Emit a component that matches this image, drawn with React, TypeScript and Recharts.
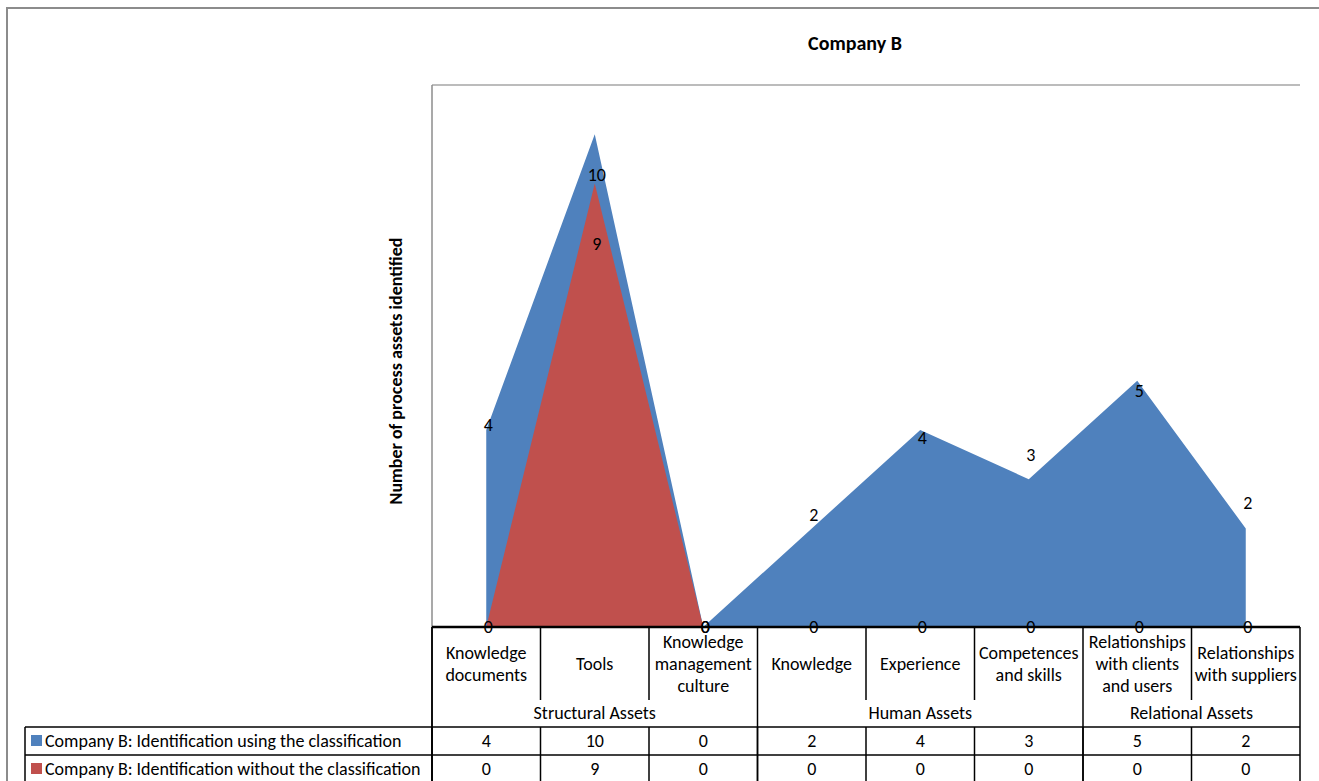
import React from 'react';
import { AreaChart, Area, XAxis, YAxis, CartesianGrid, LabelList } from 'recharts';

const categories = [
  'Knowledge\ndocuments',
  'Tools',
  'Knowledge\nmanagement\nculture',
  'Knowledge',
  'Experience',
  'Competences\nand skills',
  'Relationships\nwith clients\nand users',
  'Relationships\nwith suppliers',
];
const withClassification = [4, 10, 0, 2, 4, 3, 5, 2];
const withoutClassification = [0, 9, 0, 0, 0, 0, 0, 0];
const groups = [
  { name: 'Structural Assets', span: 3 },
  { name: 'Human Assets', span: 3 },
  { name: 'Relational Assets', span: 2 },
];
const seriesNames = [
  'Company B: Identification using the classification',
  'Company B: Identification without the classification',
];
const yTicks = [0, 1, 2, 3, 4, 5, 6, 7, 8, 9, 10, 11];

// Excel's data label placement for this chart, offset from the point (px)
const blueLabelDy = [-5, 41, 0, -13, 8, -24, 10, -25];
const redLabelDy = [0, 60, 0, 0, 0, 0, 0, 0];

const W = 1319;
const H = 781;
const PLOT_L = 432;
const PLOT_R = 1300;
const PLOT_T = 85;
const PLOT_B = 627;
const COL_W = (PLOT_R - PLOT_L) / categories.length;
const CAT_ROW_B = 700;
const ROW1_T = 727;
const ROW2_T = 755;
const ROW2_B = 790;
const LEGEND_L = 25;

const BLUE = '#4F81BD';
const RED = '#C0504D';
const FONT = 'Carlito, Calibri, Lato, sans-serif';
const FS = 18;

const data = categories.map((c, i) => ({
  name: c,
  a: withClassification[i],
  b: withoutClassification[i],
}));

const groupStarts: number[] = [];
groups.reduce((acc, g) => {
  groupStarts.push(acc);
  return acc + g.span;
}, 0);

const TableTick = (props: any) => {
  const { x, payload } = props;
  const i = payload.index;
  const left = x - COL_W / 2;
  const right = x + COL_W / 2;
  const lines = String(payload.value).split('\n');
  const lineH = 22;
  const midY = (PLOT_B + CAT_ROW_B) / 2 + 6;
  const startY = midY - ((lines.length - 1) * lineH) / 2;
  const isGroupStart = groupStarts.includes(i);
  return (
    <g>
      <line x1={left} x2={left} y1={PLOT_B} y2={isGroupStart ? ROW2_B : CAT_ROW_B} stroke="#000" strokeWidth={1.5} />
      <line x1={left} x2={left} y1={ROW1_T} y2={ROW2_B} stroke="#000" strokeWidth={1.5} />
      {i === categories.length - 1 && (
        <line x1={right} x2={right} y1={PLOT_B} y2={ROW2_B} stroke="#000" strokeWidth={1.5} />
      )}
      {lines.map((l, k) => (
        <text key={k} x={x} y={startY + k * lineH} textAnchor="middle" fontSize={FS} fontFamily={FONT} fill="#000">
          {l}
        </text>
      ))}
      <text x={x} y={ROW1_T + 20} textAnchor="middle" fontSize={FS} fontFamily={FONT} fill="#000">
        {withClassification[i]}
      </text>
      <text x={x} y={ROW2_T + 20} textAnchor="middle" fontSize={FS} fontFamily={FONT} fill="#000">
        {withoutClassification[i]}
      </text>
    </g>
  );
};

const makeLabel = (dys: number[]) => (props: any) => {
  const { x, y, value, index } = props;
  return (
    <text x={x + 2} y={y + dys[index] + 6} textAnchor="middle" fontSize={FS} fontFamily={FONT} fill="#000">
      {value}
    </text>
  );
};

const Overlay = () => {
  let col = 0;
  return (
    <svg width={W} height={H} style={{ position: 'absolute', left: 0, top: 0, pointerEvents: 'none' }}>
      <rect x={7} y={8} width={W + 20} height={H + 20} fill="none" stroke="#8c8c8c" strokeWidth={2} />
      <text x={855} y={50} textAnchor="middle" fontSize={20} fontWeight="bold" fontFamily={FONT} fill="#000">
        Company B
      </text>
      <text
        x={0}
        y={0}
        transform={`translate(402, 371) rotate(-90)`}
        textAnchor="middle"
        fontSize={18}
        fontWeight="bold"
        fontFamily={FONT}
        fill="#000"
      >
        Number of process assets identified
      </text>
      {groups.map((g) => {
        const cx = PLOT_L + (col + g.span / 2) * COL_W;
        col += g.span;
        return (
          <text key={g.name} x={cx} y={719} textAnchor="middle" fontSize={FS} fontFamily={FONT} fill="#000">
            {g.name}
          </text>
        );
      })}
      <line x1={LEGEND_L} x2={PLOT_R} y1={ROW1_T} y2={ROW1_T} stroke="#000" strokeWidth={1.5} />
      <line x1={LEGEND_L} x2={PLOT_R} y1={ROW2_T} y2={ROW2_T} stroke="#000" strokeWidth={1.5} />
      <line x1={LEGEND_L} x2={LEGEND_L} y1={ROW1_T} y2={ROW2_B} stroke="#000" strokeWidth={1.5} />
      <line x1={PLOT_L} x2={PLOT_L} y1={PLOT_B} y2={ROW2_B} stroke="#000" strokeWidth={1.5} />
      {seriesNames.map((s, k) => {
        const top = k === 0 ? ROW1_T : ROW2_T;
        return (
          <g key={s}>
            <rect x={31} y={top + 8} width={11} height={11} fill={k === 0 ? BLUE : RED} />
            <text x={45} y={top + 20} fontSize={FS} fontFamily={FONT} fill="#000">
              {s}
            </text>
          </g>
        );
      })}
    </svg>
  );
};

export default function App() {
  return (
    <div style={{ position: 'absolute', left: 0, top: 0, width: W, height: H, background: '#fff' }}>
      <AreaChart
        width={W}
        height={H}
        data={data}
        margin={{ top: PLOT_T, right: W - PLOT_R, bottom: 0, left: PLOT_L - 60 }}
      >
        <CartesianGrid horizontal vertical={false} stroke="#a6a6a6" strokeWidth={1.5} />
        <YAxis
          domain={[0, 11]}
          ticks={yTicks}
          width={60}
          tick={false}
          tickLine={false}
          axisLine={{ stroke: '#8c8c8c', strokeWidth: 1.5 }}
        />
        <XAxis
          dataKey="name"
          height={H - PLOT_B}
          interval={0}
          padding={{ left: COL_W / 2, right: COL_W / 2 }}
          tickLine={false}
          tickSize={0}
          tickMargin={0}
          axisLine={{ stroke: '#000', strokeWidth: 2.5 }}
          tick={<TableTick />}
        />
        <Area
          type="linear"
          dataKey="a"
          fill={BLUE}
          fillOpacity={1}
          stroke="none"
          isAnimationActive={false}
        >
          <LabelList dataKey="a" content={makeLabel(blueLabelDy)} />
        </Area>
        <Area
          type="linear"
          dataKey="b"
          fill={RED}
          fillOpacity={1}
          stroke="none"
          isAnimationActive={false}
        >
          <LabelList dataKey="b" content={makeLabel(redLabelDy)} />
        </Area>
      </AreaChart>
      <Overlay />
    </div>
  );
}
